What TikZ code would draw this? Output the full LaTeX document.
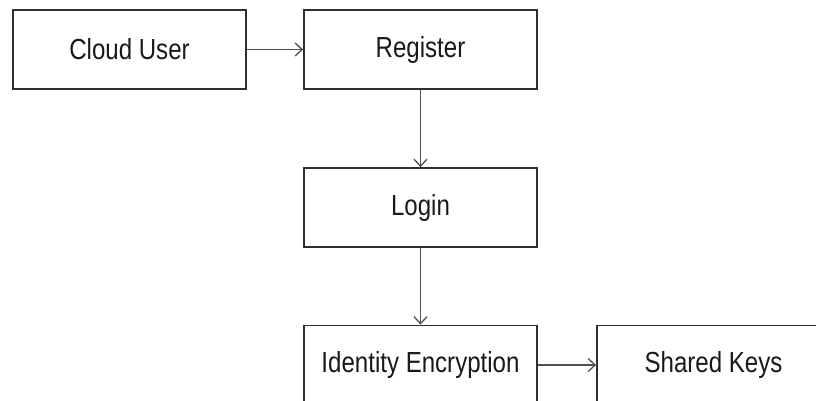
\documentclass[tikz,border=0pt]{standalone}
\usepackage{fontspec}
\setmainfont[FakeStretch=0.83]{Liberation Sans}
\usetikzlibrary{arrows.meta}
\definecolor{edge}{HTML}{2E2E2E}
\definecolor{link}{HTML}{505050}
\tikzset{
  stepbox/.style={draw=edge, line width=1.8pt, fill=white, rectangle,
    minimum width=233pt, minimum height=79pt, inner sep=0pt,
    font=\fontsize{29pt}{33pt}\selectfont, text=black!90},
  flow/.style={draw=link, line width=1.6pt,
    -{Straight Barb[length=7pt,width=13pt,line width=1.3pt]}}
}
\begin{document}
\begin{tikzpicture}[x=1pt,y=1pt]
  \useasboundingbox (0,0) rectangle (816,-400);
  \fill[white] (0,0) rectangle (816,-400);
  \clip (0,0) rectangle (816,-400);
  \node[stepbox] (user) at (129.5,-49.5) {Cloud User};
  \node[stepbox] (reg) at (420.5,-49.5) {Register};
  \node[stepbox] (login) at (420.5,-207.5) {Login};
  \node[stepbox] (ident) at (420.5,-365) {Identity Encryption};
  \node[stepbox] (keys) at (713.5,-365) {Shared Keys};
  \draw[flow] (user) -- (reg);
  \draw[flow] (reg) -- (login);
  \draw[flow] (login) -- (ident);
  \draw[flow] (ident) -- (keys);
\end{tikzpicture}
\end{document}
